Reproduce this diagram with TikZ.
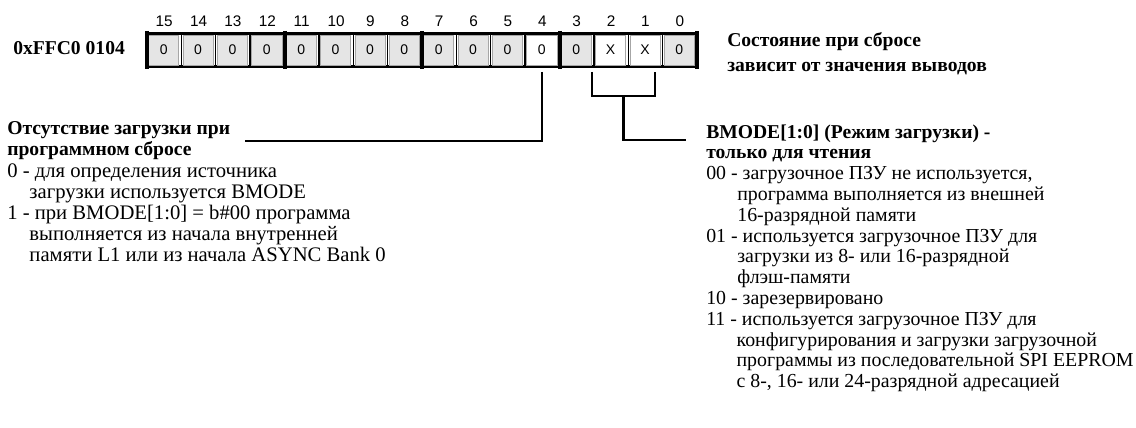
\documentclass[tikz,border=0pt]{standalone}
\usepackage{fontspec}
\setmainfont{Liberation Serif}
\newfontfamily\cellfont{Liberation Sans}
\newcommand{\ind}[1]{\hphantom{#1}\hspace{-4pt}}
\begin{document}
\begin{tikzpicture}[x=0.75pt,y=-0.75pt,
  txt/.style={anchor=base west,inner sep=0pt,font=\fontsize{14.9}{16}\selectfont},
  ltxt/.style={anchor=base west,inner sep=0pt,font=\fontsize{15.5}{16}\selectfont},
  btxt/.style={txt,font=\fontsize{14.7}{16}\selectfont\bfseries},
  bitnum/.style={inner sep=0pt,font=\cellfont\fontsize{11.5}{12}\selectfont},
  cell/.style={draw=black!35,line width=0.4pt,fill=black!10,minimum width=22.6pt,minimum height=22.5pt,inner sep=0pt,font=\cellfont\fontsize{10.5}{11}\selectfont},
  wcell/.style={cell,fill=white},
  sep/.style={line width=1.1pt},
  tsep/.style={line width=3pt},
  lead/.style={line width=1.6pt}]
\useasboundingbox (0,0) rectangle (1136,428);
% address
\node[btxt] (addr) at (13,55) {0xFFC0 0104};
% frame
\def\pitch{34.375}
\draw[line width=1.6pt] (145,33.5) -- (699,33.5);
\draw[line width=1.6pt] (145,66.5) -- (699,66.5);
\foreach \b in {0,...,15}{
  \pgfmathsetmacro\xc{147+(15-\b)*\pitch+\pitch/2-0.5}
  \pgfmathsetmacro\xl{147+(15-\b)*\pitch}
  \ifnum\b=4 \def\st{wcell}\else\ifnum\b=2 \def\st{wcell}\else\ifnum\b=1 \def\st{wcell}\else\def\st{cell}\fi\fi\fi
  \ifnum\b=2 \def\v{X}\else\ifnum\b=1 \def\v{X}\else\def\v{0}\fi\fi
  \node[\st] (c\b) at (\xc,50) {\v};
  \node[bitnum] (n\b) at (\xc+0.5,21) {\b};
  \draw[sep] (\xl,33.5) -- (\xl,66.5);
}
\foreach \xx in {147,284.5,422,559.5,697}{
  \draw[tsep] (\xx,31) -- (\xx,69);
}
% right note
\node[btxt] (st1) at (727,47) {Состояние при сбросе};
\node[btxt] (st2) at (727,72) {зависит от значения выводов};
% left block
\def\lx{7}
\def\lp{21}
\node[btxt] (l0) at (\lx,135) {Отсутствие загрузки при};
\node[btxt] (l1) at (\lx,135+\lp) {программном сбросе};
\node[ltxt] (l2) at (\lx,135+2*\lp) {0 - для определения источника};
\node[ltxt] (l3) at (\lx,135+3*\lp) {\ind{0 - }загрузки используется BMODE};
\node[ltxt] (l4) at (\lx,135+4*\lp) {1 - при BMODE[1:0] = b\#00 программа};
\node[ltxt] (l5) at (\lx,135+5*\lp) {\ind{1 - }выполняется из начала внутренней};
\node[ltxt] (l6) at (\lx,135+6*\lp) {\ind{1 - }памяти L1 или из начала ASYNC Bank 0};
% right block
\def\rx{706}
\def\ry{138}
\def\rp{20.8}
\node[btxt] (r0) at (\rx,\ry) {BMODE[1:0] (Режим загрузки) -};
\node[btxt] (r1) at (\rx,\ry+\rp) {только для чтения};
\node[txt] (r2) at (\rx,\ry+2*\rp) {00 - загрузочное ПЗУ не используется,};
\node[txt] (r3) at (\rx,\ry+3*\rp) {\ind{00 - }программа выполняется из внешней};
\node[txt] (r4) at (\rx,\ry+4*\rp) {\ind{00 - }16-разрядной памяти};
\node[txt] (r5) at (\rx,\ry+5*\rp) {01 - используется загрузочное ПЗУ для};
\node[txt] (r6) at (\rx,\ry+6*\rp) {\ind{01 - }загрузки из 8- или 16-разрядной};
\node[txt] (r7) at (\rx,\ry+7*\rp) {\ind{01 - }флэш-памяти};
\node[txt] (r8) at (\rx,\ry+8*\rp) {10 - зарезервировано};
\node[txt] (r9) at (\rx,\ry+9*\rp) {11 - используется загрузочное ПЗУ для};
\node[txt] (r10) at (\rx,\ry+10*\rp) {\ind{11 - }конфигурирования и загрузки загрузочной};
\node[txt] (r11) at (\rx,\ry+11*\rp) {\ind{11 - }программы из последовательной SPI EEPROM};
\node[txt] (r12) at (\rx,\ry+12*\rp) {\ind{11 - }с 8-, 16- или 24-разрядной адресацией};
% leaders
\coordinate (a4) at (541.7,72);
\coordinate (e4) at (245,141);
\draw[lead] (a4) |- (e4);
\coordinate (a2) at (592,72);
\coordinate (a1) at (655,72);
\coordinate (m) at (623.5,96);
\coordinate (e21) at (686,140);
\draw[lead] (a2) |- (m) -| (a1);
\draw[lead] (m) |- (e21);
\end{tikzpicture}
\end{document}
